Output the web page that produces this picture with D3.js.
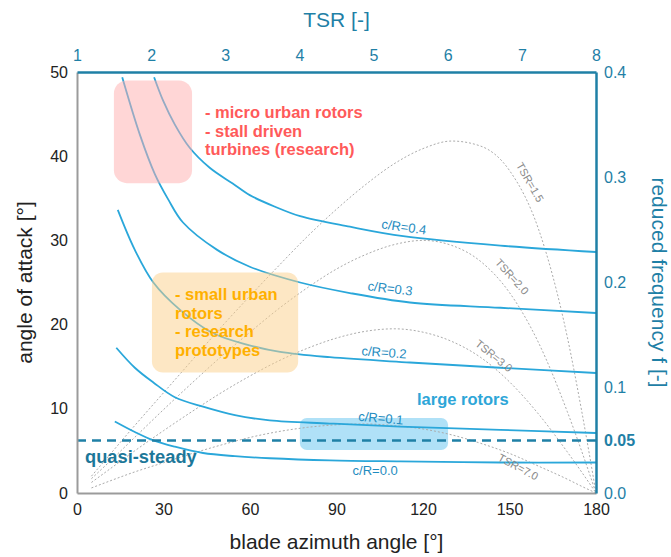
<!DOCTYPE html>
<html>
<head>
<meta charset="utf-8">
<script src="https://cdn.jsdelivr.net/npm/d3@7"></script>
<style>
  html, body { margin: 0; padding: 0; background: #fff; }
  svg { display: block; font-family: "Liberation Sans", Arial, sans-serif; }
</style>
</head>
<body>
<svg id="chart" width="671" height="557"></svg>
<script>
// ---- angle of attack vs. blade azimuth for fixed tip speed ratios ----
const azimuth = [5, 10, 20, 30, 40, 50, 60, 70, 80, 90, 100, 110, 120, 130, 140, 150, 160, 170, 175, 180];
const aoaTsr15 = [2.0, 4.0, 8.0, 11.9, 15.8, 19.7, 23.4, 27.0, 30.5, 33.7, 36.6, 39.1, 40.9, 41.8, 41.2, 38.3, 31.4, 18.6, 9.8, 0];
const aoaTsr20 = [1.7, 3.3, 6.6, 9.9, 13.1, 16.2, 19.1, 21.9, 24.4, 26.6, 28.3, 29.5, 30.0, 29.4, 27.5, 23.8, 17.9, 9.7, 5.0, 0];
const aoaTsr30 = [1.25, 2.5, 5.0, 7.4, 9.7, 11.9, 13.9, 15.7, 17.2, 18.4, 19.2, 19.5, 19.1, 18.0, 16.1, 13.2, 9.4, 4.9, 2.5, 0];
const aoaTsr70 = [0.6, 1.25, 2.5, 3.6, 4.7, 5.7, 6.6, 7.3, 7.8, 8.1, 8.2, 8.0, 7.6, 6.9, 5.9, 4.7, 3.2, 1.65, 0.8, 0];
const tsrCurveNames = ["TSR=1.5", "TSR=2.0", "TSR=3.0", "TSR=7.0"];

// ---- reduced frequency vs. tip speed ratio for fixed chord/radius ----
const crTsr04 = [2.04, 2.16, 2.32, 2.52, 2.79, 3.10, 3.33, 3.67, 4.01, 4.68, 5.40, 6.71, 8.00];
const crF04   = [0.395, 0.373, 0.350, 0.328, 0.309, 0.294, 0.283, 0.272, 0.263, 0.253, 0.244, 0.235, 0.229];
const crTsr03 = [1.61, 1.85, 2.05, 2.23, 2.43, 2.89, 3.33, 4.01, 4.68, 5.49, 6.71, 8.00];
const crF03   = [0.395, 0.340, 0.303, 0.279, 0.257, 0.231, 0.215, 0.200, 0.190, 0.181, 0.176, 0.171];
const crTsr02 = [1.55, 1.78, 2.03, 2.39, 2.83, 3.29, 3.74, 4.41, 5.49, 6.71, 8.00];
const crF02   = [0.269, 0.231, 0.200, 0.174, 0.152, 0.141, 0.134, 0.129, 0.124, 0.119, 0.114];
const crTsr01 = [1.53, 1.78, 2.03, 2.32, 2.70, 3.13, 3.60, 4.41, 5.36, 6.71, 8.00];
const crF01   = [0.138, 0.119, 0.105, 0.091, 0.082, 0.074, 0.069, 0.066, 0.063, 0.060, 0.057];
const crTsr00 = [1.51, 1.78, 2.03, 2.32, 2.70, 3.13, 3.60, 4.41, 5.36, 6.71, 8.00];
const crF00   = [0.068, 0.058, 0.050, 0.044, 0.038, 0.035, 0.033, 0.031, 0.030, 0.029, 0.029];
const crNames = ["c/R=0.4", "c/R=0.3", "c/R=0.2", "c/R=0.1", "c/R=0.0"];

// quasi-steady threshold
const quasiSteadyF = 0.05;

// ---- axis ticks ----
const azimuthTicks = [0, 30, 60, 90, 120, 150, 180];
const aoaTicks = [0, 10, 20, 30, 40, 50];
const tsrTicks = [1, 2, 3, 4, 5, 6, 7, 8];
const freqTicks = [0, 0.05, 0.1, 0.2, 0.3, 0.4];

// ---- application regions (azimuth range, angle-of-attack range) ----
const regionNames = ["micro", "small", "large"];
const regionAzimuth = [[12.8, 39.9], [26.0, 76.7], [77.3, 128.7]];
const regionAoa = [[36.8, 49.0], [14.3, 26.2], [5.1, 8.9]];

// ---------------------------------------------------------------
const W = 671, H = 557;
const M = { left: 77, right: 75, top: 72, bottom: 64 };
const svg = d3.select("#chart");

const x = d3.scaleLinear().domain([0, 180]).range([M.left, W - M.right]);
const y = d3.scaleLinear().domain([0, 50]).range([H - M.bottom, M.top]);
const xT = d3.scaleLinear().domain([1, 8]).range([M.left, W - M.right]);
const yF = d3.scaleLinear().domain([0, 0.4]).range([H - M.bottom, M.top]);

const TEAL = "#1f80a6";
const CURVE = "#2aa7da";
const GRAY = "#9b9b9b";

// light blue region sits beneath the curves
const regionFill = { micro: "#ffadad", small: "#fbd089", large: "#b0e1f7" };
function drawRegion(i, opacity, rx) {
  const [a0, a1] = regionAzimuth[i];
  const [b0, b1] = regionAoa[i];
  svg.append("rect")
    .attr("x", x(a0)).attr("y", y(b1))
    .attr("width", x(a1) - x(a0)).attr("height", y(b0) - y(b1))
    .attr("rx", rx).attr("ry", rx)
    .attr("fill", regionFill[regionNames[i]])
    .attr("fill-opacity", opacity);
}
drawRegion(2, 1, 7);

// dotted angle-of-attack curves
const aoaLine = d3.line().x(d => x(d[0])).y(d => y(d[1])).curve(d3.curveMonotoneX);
[aoaTsr15, aoaTsr20, aoaTsr30, aoaTsr70].forEach(vals => {
  svg.append("path")
    .attr("d", aoaLine(azimuth.map((a, i) => [a, vals[i]])))
    .attr("fill", "none")
    .attr("stroke", "#ababab")
    .attr("stroke-width", 1)
    .attr("stroke-dasharray", "2,2");
});

// reduced frequency curves
const fLine = d3.line().x(d => xT(d[0])).y(d => yF(d[1])).curve(d3.curveCatmullRom.alpha(0.5));
[[crTsr04, crF04], [crTsr03, crF03], [crTsr02, crF02], [crTsr01, crF01], [crTsr00, crF00]].forEach(([ts, fs]) => {
  svg.append("path")
    .attr("d", fLine(ts.map((t, i) => [t, fs[i]])))
    .attr("fill", "none")
    .attr("stroke", CURVE)
    .attr("stroke-width", 1.8);
});

// quasi-steady limit
svg.append("line")
  .attr("x1", xT(1)).attr("x2", xT(8))
  .attr("y1", yF(quasiSteadyF)).attr("y2", yF(quasiSteadyF))
  .attr("stroke", TEAL).attr("stroke-width", 2.5)
  .attr("stroke-dasharray", "9,6");

// translucent regions drawn over the curves
drawRegion(0, 0.5, 13);
drawRegion(1, 0.5, 11);

// ---- axes ----
const fontTick = 16;
const gB = svg.append("g").attr("transform", `translate(0,${H - M.bottom})`)
  .call(d3.axisBottom(x).tickValues(azimuthTicks).tickSize(0).tickPadding(11).tickFormat(d3.format("d")));
const gL = svg.append("g").attr("transform", `translate(${M.left},0)`)
  .call(d3.axisLeft(y).tickValues(aoaTicks).tickSize(0).tickPadding(9).tickFormat(d3.format("d")));
const gT = svg.append("g").attr("transform", `translate(0,${M.top})`)
  .call(d3.axisTop(xT).tickValues(tsrTicks).tickSize(0).tickPadding(11).tickFormat(d3.format("d")));
const gR = svg.append("g").attr("transform", `translate(${W - M.right},0)`)
  .call(d3.axisRight(yF).tickValues(freqTicks).tickSize(0).tickPadding(8)
    .tickFormat(d => d === quasiSteadyF ? "0.05" : d3.format(".1f")(d)));

[gB, gL, gT, gR].forEach(g => {
  g.selectAll("text").attr("font-size", fontTick).attr("font-family", "'Liberation Sans', Arial, sans-serif");
});
gB.selectAll("text").attr("fill", "#222");
gL.selectAll("text").attr("fill", "#222");
gT.selectAll("text").attr("fill", TEAL);
gR.selectAll("text").attr("fill", TEAL)
  .attr("font-weight", d => d === quasiSteadyF ? "bold" : "normal");

gB.select(".domain").attr("stroke", GRAY).attr("stroke-width", 2);
gL.select(".domain").attr("stroke", GRAY).attr("stroke-width", 2);
gT.select(".domain").attr("stroke", TEAL).attr("stroke-width", 2.5);
gR.select(".domain").attr("stroke", TEAL).attr("stroke-width", 2.5);
gT.raise(); gR.raise();

// ---- axis titles ----
const fontTitle = 21;
svg.append("text").attr("x", (M.left + W - M.right) / 2).attr("y", 27)
  .attr("text-anchor", "middle").attr("font-size", fontTitle).attr("fill", TEAL).text("TSR [-]");
svg.append("text").attr("x", (M.left + W - M.right) / 2).attr("y", 549)
  .attr("text-anchor", "middle").attr("font-size", fontTitle).attr("fill", "#222").text("blade azimuth angle [°]");
svg.append("text")
  .attr("transform", `translate(32,${(M.top + H - M.bottom) / 2}) rotate(-90)`)
  .attr("text-anchor", "middle").attr("font-size", fontTitle).attr("fill", "#222").text("angle of attack [°]");
svg.append("text")
  .attr("transform", `translate(652,${(M.top + H - M.bottom) / 2}) rotate(90)`)
  .attr("text-anchor", "middle").attr("font-size", fontTitle).attr("fill", TEAL).text("reduced frequency f [-]");

// ---- curve labels ----
const crLabelPos = [[113.4, 31.6, 8], [108.6, 24.3, 7], [106.5, 16.7, 4], [105.4, 8.9, 5], [103.4, 2.7, 0]];
crNames.forEach((name, i) => {
  const [a, b, r] = crLabelPos[i];
  svg.append("text")
    .attr("transform", `translate(${x(a)},${y(b)}) rotate(${r})`)
    .attr("text-anchor", "middle").attr("dy", "0.35em")
    .attr("font-size", 13).attr("fill", "#1f8cc0").text(name);
});

const tsrLabelPos = [[157.1, 36.9, 60], [150.9, 25.7, 48], [144.6, 16.3, 39], [153.0, 3.1, 28]];
tsrCurveNames.forEach((name, i) => {
  const [a, b, r] = tsrLabelPos[i];
  svg.append("text")
    .attr("transform", `translate(${x(a)},${y(b)}) rotate(${r})`)
    .attr("text-anchor", "middle").attr("dy", "0.35em")
    .attr("font-size", 11).attr("fill", "#8a8a8a").text(name);
});

// ---- region annotations ----
function block(lines, x0, y0, lh, color, size) {
  const t = svg.append("text").attr("font-size", size).attr("font-weight", "bold").attr("fill", color);
  lines.forEach((s, i) => t.append("tspan").attr("x", x0).attr("y", y0 + i * lh).text(s));
}
block(["- micro urban rotors", "- stall driven", "turbines (research)"], 205, 118, 18.5, "#ff5a5a", 16.5);
block(["- small urban", "rotors", "- research", "prototypes"], 175, 300, 18.7, "#ffb000", 16.5);
block(["large rotors"], 417, 405, 18, "#2ea6d8", 16.5);
block(["quasi-steady"], 85, 463, 18, "#1c7799", 18.3);
</script>
</body>
</html>
